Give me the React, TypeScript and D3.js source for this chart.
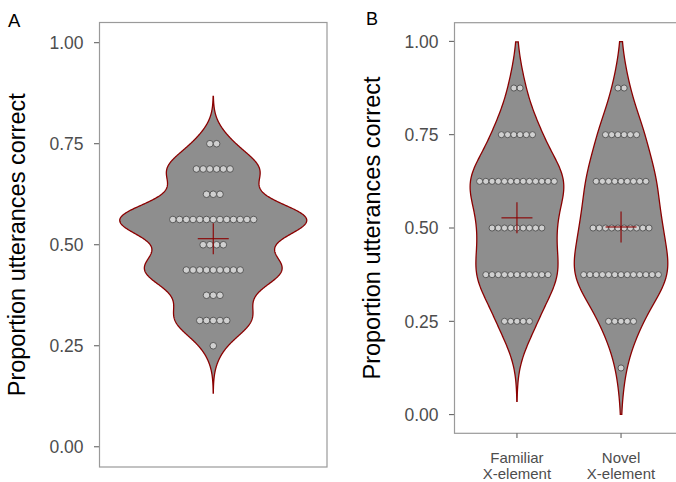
import React from "react";
import * as d3 from "d3";

// ---- data ----
const panelAValues = [0.25, 0.3125, 0.375, 0.4375, 0.5, 0.5625, 0.625, 0.6875, 0.75];
const panelACounts = [1, 5, 3, 9, 4, 13, 3, 6, 2];

const familiarValues = [0.25, 0.375, 0.5, 0.625, 0.75, 0.875];
const familiarCounts = [5, 11, 9, 13, 6, 2];

const novelValues = [0.125, 0.25, 0.375, 0.5, 0.625, 0.75, 0.875];
const novelCounts = [1, 5, 13, 10, 9, 6, 2];

const panelBCategories = ["Familiar\nX-element", "Novel\nX-element"];
const yTicks = [0, 0.25, 0.5, 0.75, 1];
const yTitle = "Proportion utterances correct";

// ---- helpers ----
const expand = (vals: number[], counts: number[]) =>
  vals.flatMap((v, i) => Array(counts[i]).fill(v) as number[]);

function bwNrd0(x: number[]) {
  const s = [...x].sort((a, b) => a - b);
  const sd = d3.deviation(s) || 0;
  const iqr = (d3.quantileSorted(s, 0.75) || 0) - (d3.quantileSorted(s, 0.25) || 0);
  const lo = Math.min(sd, iqr / 1.34);
  return 0.9 * lo * Math.pow(s.length, -0.2);
}

function kde(x: number[]) {
  const bw = bwNrd0(x);
  const [mn, mx] = d3.extent(x) as [number, number];
  const from = mn - 3 * bw;
  const to = mx + 3 * bw;
  const n = 512;
  const pts: { y: number; d: number }[] = [];
  for (let i = 0; i < n; i++) {
    const y = from + ((to - from) * i) / (n - 1);
    let s = 0;
    for (const v of x) {
      const z = (y - v) / bw;
      s += Math.exp(-0.5 * z * z);
    }
    pts.push({ y, d: s / (x.length * bw * Math.sqrt(2 * Math.PI)) });
  }
  return pts.filter((p) => p.y >= 0 && p.y <= 1);
}

const FONT = "'Liberation Sans', Arial, Helvetica, sans-serif";
const VIOLIN_FILL = "#8e8e8e";
const VIOLIN_STROKE = "#8b0000";
const DOT_FILL = "#d0d0d0";
const DOT_STROKE = "#505050";
const TEXT = "#4d4d4d";
const AXIS = "#9a9a9a";

type ViolinProps = {
  vals: number[];
  counts: number[];
  cx: number;
  y: d3.ScaleLinear<number, number>;
  maxHalf: number;
  maxDens: number;
};

function Violin({ vals, counts, cx, y, maxHalf, maxDens }: ViolinProps) {
  const raw = expand(vals, counts);
  const dens = kde(raw);
  const w = d3.scaleLinear().domain([0, maxDens]).range([0, maxHalf]);
  const area = d3
    .area<{ y: number; d: number }>()
    .y((p) => y(p.y))
    .x0((p) => cx - w(p.d))
    .x1((p) => cx + w(p.d));
  const dia = (y(0) - y(1)) / 60;
  const mean = d3.mean(raw) || 0;
  const arm = 15.5;
  return (
    <g>
      <path d={area(dens) || ""} fill={VIOLIN_FILL} stroke={VIOLIN_STROKE} strokeWidth={1.3} />
      {vals.map((v, i) =>
        d3.range(counts[i]).map((j) => (
          <circle
            key={`${i}-${j}`}
            cx={cx + (j - (counts[i] - 1) / 2) * dia}
            cy={y(v)}
            r={dia / 2 - 0.05}
            fill={DOT_FILL}
            stroke={DOT_STROKE}
            strokeWidth={0.9}
          />
        ))
      )}
      <line x1={cx - arm} x2={cx + arm} y1={y(mean)} y2={y(mean)} stroke={VIOLIN_STROKE} strokeWidth={1.1} />
      <line x1={cx} x2={cx} y1={y(mean) - arm} y2={y(mean) + arm} stroke={VIOLIN_STROKE} strokeWidth={1.1} />
    </g>
  );
}

function YAxis({ y, x0, title }: { y: d3.ScaleLinear<number, number>; x0: number; title: string }) {
  const top = y.range()[1];
  const bot = y.range()[0];
  return (
    <g fontFamily={FONT}>
      {yTicks.map((t) => (
        <g key={t}>
          <line x1={x0 - 5.5} x2={x0} y1={y(t)} y2={y(t)} stroke="#555" strokeWidth={1} />
          <text x={x0 - 16} y={y(t)} dy="0.36em" textAnchor="end" fontSize={17.5} fill={TEXT}>
            {d3.format(".2f")(t)}
          </text>
        </g>
      ))}
      <text
        transform={`translate(${x0 - 74.5},${(top + bot) / 2}) rotate(-90)`}
        textAnchor="middle"
        fontSize={23.5}
        fill="#000"
      >
        {title}
      </text>
    </g>
  );
}

export default function App() {
  const W = 676;
  const H = 482;

  // Panel A
  const yA = d3.scaleLinear().domain([-0.05, 1.05]).range([467, 22.5]);
  const xA = d3.scaleLinear().domain([0.4, 1.6]).range([99.5, 327]);
  const rawA = expand(panelAValues, panelACounts);
  const maxA = d3.max(kde(rawA), (p) => p.d) || 1;

  // Panel B
  const yB = d3.scaleLinear().domain([-0.05, 1.05]).range([433.3, 22.7]);
  const xB = d3.scaleLinear().domain([0.4, 2.6]).range([454.5, 683.5]);
  const rawF = expand(familiarValues, familiarCounts);
  const rawN = expand(novelValues, novelCounts);
  const maxB = Math.max(d3.max(kde(rawF), (p) => p.d) || 1, d3.max(kde(rawN), (p) => p.d) || 1);
  const halfB = xB(1.45) - xB(1);

  return (
    <div style={{ position: "absolute", left: 0, top: 0 }}>
      <svg width={W} height={H} viewBox={`0 0 ${W} ${H}`} style={{ display: "block", background: "#fff" }}>
        {/* Panel A */}
        <text x={8} y={27} fontFamily={FONT} fontSize={18.5} fill="#000">A</text>
        <YAxis y={yA} x0={99.5} title={yTitle} />
        <Violin vals={panelAValues} counts={panelACounts} cx={xA(1)} y={yA} maxHalf={93.5} maxDens={maxA} />
        <rect x={99.5} y={22.5} width={327 - 99.5} height={467 - 22.5} fill="none" stroke={AXIS} strokeWidth={1.2} />

        {/* Panel B */}
        <text x={366} y={25} fontFamily={FONT} fontSize={18} fill="#000">B</text>
        <YAxis y={yB} x0={454.5} title={yTitle} />
        <Violin vals={familiarValues} counts={familiarCounts} cx={xB(1)} y={yB} maxHalf={halfB} maxDens={maxB} />
        <Violin vals={novelValues} counts={novelCounts} cx={xB(2)} y={yB} maxHalf={halfB} maxDens={maxB} />
        <rect x={454.5} y={22.7} width={683.5 - 454.5} height={433.3 - 22.7} fill="none" stroke={AXIS} strokeWidth={1.2} />
        {panelBCategories.map((c, i) => {
          const cx = xB(i + 1);
          const lines = c.split("\n");
          return (
            <g key={c} fontFamily={FONT}>
              <line x1={cx} x2={cx} y1={433.3} y2={438} stroke="#555" strokeWidth={1} />
              {lines.map((l, k) => (
                <text key={k} x={cx} y={462.7 + k * 16.6} textAnchor="middle" fontSize={15} fill={TEXT}>
                  {l}
                </text>
              ))}
            </g>
          );
        })}
      </svg>
    </div>
  );
}
